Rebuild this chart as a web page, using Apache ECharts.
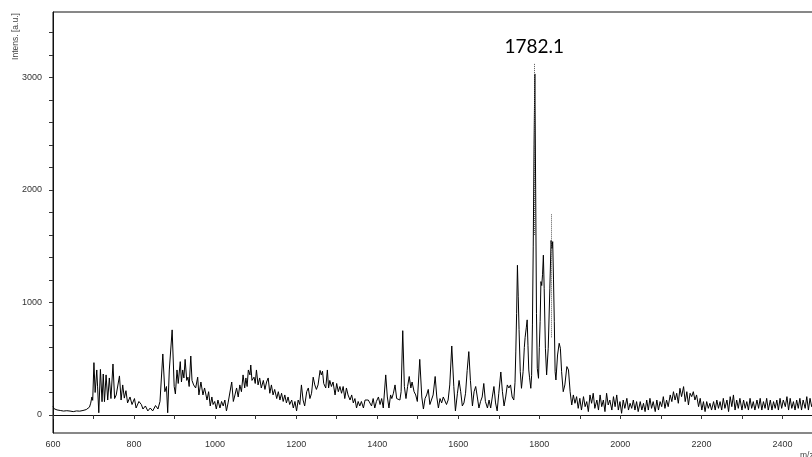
<!DOCTYPE html>
<html>
<head>
<meta charset="utf-8">
<script src="https://cdn.jsdelivr.net/npm/echarts@6/dist/echarts.min.js"></script>
<style>
html,body{margin:0;padding:0;background:#fff;overflow:hidden;width:812px;height:457px;}
#chart{width:840px;height:457px;}
</style>
</head>
<body>
<div id="chart"></div>
<script>
// ---- data (m/z, intensity) ----
var lowMassTrace = [[600,75],[603,55],[606,62],[610,45],[614,52],[618,40],[622,48],[626,35],[630,45],[634,38],[638,50],[642,35],[646,42],[650,30],[654,44],[658,36],[662,48],[666,34],[670,46],[674,40],[678,55],[682,48],[686,62],[690,70],[693,105],[696,160],[698,130],[701,465],[704,200],[708,400],[710,250],[713,20],[717,405],[721,118],[724,364],[727,118],[731,356],[735,133],[739,329],[743,146],[748,453],[752,146],[756,178],[764,347],[768,133],[772,267],[776,150],[780,216],[784,107],[790,160],[795,93],[801,146],[805,62],[812,120],[818,93],[822,53],[828,80],[834,36],[840,62],[846,36],[853,84],[859,53],[864,120],[868,107],[871,542],[876,207],[880,253],[883,20],[887,400],[894,756],[899,253],[902,187],[906,400],[909,280],[914,474],[917,293],[920,400],[923,329],[926,494],[930,307],[933,336],[936,253],[940,524],[943,307],[947,267],[952,240],[957,336],[960,178],[965,293],[970,178],[974,240],[980,133],[984,207],[988,80],[992,160]];

var midMassTrace = [[995,93],[999,120],[1003,53],[1007,133],[1012,62],[1016,120],[1020,80],[1024,133],[1028,36],[1032,107],[1036,93],[1041,293],[1045,120],[1049,178],[1053,240],[1057,160],[1061,267],[1065,207],[1069,356],[1073,240],[1076,329],[1079,253],[1082,400],[1086,356],[1088,444],[1091,307],[1096,336],[1099,280],[1102,400],[1106,267],[1110,329],[1114,240],[1119,307],[1123,227],[1127,293],[1131,329],[1135,193],[1139,267],[1143,178],[1147,227],[1152,146],[1156,207],[1160,133],[1164,193],[1168,120],[1172,178],[1176,107],[1180,160],[1184,93],[1189,133],[1193,62],[1197,120],[1201,36],[1205,133],[1209,93],[1213,267],[1217,133],[1221,80],[1226,207],[1230,240],[1234,146],[1238,193],[1242,336],[1246,267],[1250,227],[1254,267],[1259,396],[1262,356],[1265,389],[1268,280],[1273,240],[1277,400],[1280,240],[1283,307],[1287,253],[1291,293],[1296,178],[1300,280],[1304,207],[1308,253],[1312,193],[1316,253],[1320,146],[1324,240],[1328,178],[1333,133],[1337,178],[1341,107],[1345,146],[1349,62],[1353,120],[1357,80],[1361,120],[1366,62],[1370,133],[1374,146],[1378,133]];

var preClusterTrace = [[1382,133],[1386,80],[1390,146],[1394,62],[1398,120],[1403,160],[1407,93],[1411,146],[1415,62],[1421,356],[1425,160],[1429,62],[1433,178],[1436,146],[1440,193],[1444,267],[1448,146],[1452,160],[1456,133],[1459,207],[1463,749],[1467,253],[1471,146],[1475,253],[1479,342],[1483,240],[1486,293],[1491,207],[1495,178],[1499,120],[1505,494],[1510,160],[1514,53],[1518,146],[1522,178],[1526,227],[1530,93],[1534,107],[1538,178],[1543,342],[1547,160],[1551,62],[1555,146],[1559,107],[1563,160],[1567,146],[1571,93],[1575,133],[1579,267],[1584,613],[1589,253],[1593,36],[1598,193],[1602,307],[1606,207],[1610,80],[1614,107],[1618,193],[1622,396],[1626,563],[1630,307],[1635,80],[1639,207],[1643,253],[1647,160],[1651,62],[1655,120],[1659,160],[1663,280],[1667,120],[1672,62],[1676,133],[1680,62],[1684,160],[1688,253],[1692,107],[1696,36],[1700,193],[1705,382],[1709,207],[1713,80],[1717,160],[1721,267],[1725,240],[1729,267],[1733,160],[1737,133]];

var peakClusterTrace = [[1740,290],[1742,560],[1744,900],[1746,1330],[1748,1050],[1750,760],[1753,385],[1756,237],[1760,385],[1763,600],[1765,690],[1768,780],[1770,845],[1772,620],[1774,400],[1776,330],[1779,237],[1781,350],[1783,800],[1785,1500],[1787,2400],[1789,3030],[1791,2000],[1793,900],[1795,415],[1798,326],[1800,600],[1802,830],[1804,1185],[1806,1150],[1808,1250],[1810,1420],[1812,1126],[1815,593],[1818,356],[1822,593],[1826,1126],[1829,1550],[1831,1480],[1833,1540],[1835,1200],[1837,829],[1839,385],[1841,311],[1845,533],[1849,637],[1852,593],[1855,385],[1859,207],[1863,267],[1868,430],[1872,400],[1876,207],[1880,89],[1884,178],[1888,104],[1892,163],[1896,59]];

var highMassTrace = [[1900,148],[1904,44],[1909,163],[1913,74],[1917,119],[1921,30],[1925,178],[1929,104],[1933,193],[1937,59],[1942,133],[1946,44],[1950,178],[1954,74],[1958,133],[1962,30],[1966,193],[1970,89],[1974,133],[1979,44],[1983,163],[1987,74],[1991,178],[1995,44],[1999,119],[2003,15],[2007,133],[2011,59],[2016,148],[2020,44],[2024,104],[2028,59],[2032,133],[2036,44],[2040,119],[2044,30],[2049,119],[2053,44],[2057,104],[2061,30],[2065,133],[2069,44],[2073,148],[2077,59],[2081,119],[2086,30],[2090,133],[2094,44],[2098,119],[2102,74],[2106,163],[2110,59],[2114,133],[2118,74],[2123,178],[2127,119],[2131,207],[2135,133],[2139,193],[2143,104],[2147,237],[2151,163],[2156,252],[2160,119],[2164,207],[2168,89],[2172,193],[2176,163],[2180,207],[2184,133],[2188,178],[2193,74],[2197,148],[2201,44],[2205,119],[2209,30],[2213,119],[2217,59],[2221,104],[2225,44],[2230,119],[2234,44],[2238,133],[2242,59],[2246,119],[2250,44],[2254,148],[2258,59],[2263,133],[2267,30],[2271,163],[2275,74],[2279,178],[2283,44],[2287,133],[2291,59],[2295,148],[2300,44],[2304,133],[2308,59],[2312,119],[2316,44],[2320,148],[2324,59],[2328,119],[2332,44],[2337,133],[2341,59],[2345,148],[2349,44],[2353,119],[2357,59],[2361,148],[2365,44],[2370,133],[2374,44],[2378,119],[2382,59],[2386,133],[2390,44],[2394,148],[2398,59],[2402,133],[2407,74],[2411,163],[2415,44],[2419,148],[2423,59],[2427,119],[2431,44],[2435,133],[2439,59],[2443,148],[2447,44],[2451,133],[2456,59],[2460,163],[2464,44],[2468,148],[2472,74],[2476,120],[2480,60],[2490,110],[2500,80]];

// peak annotation: [m/z, lower intensity, upper intensity]
var peakMarkers = [[1787.5,1600,3126],[1829.5,690,1790]];
var peakLabel = '1782.1';

var xTickValues = [600,700,800,900,1000,1100,1200,1300,1400,1500,1600,1700,1800,1900,2000,2100,2200,2300,2400];
var xLabelValues = [600,800,1000,1200,1400,1600,1800,2000,2200,2400];
var yTickValues = [0,200,400,600,800,1000,1200,1400,1600,1800,2000,2200,2400,2600,2800,3000,3200,3400];
var yLabelValues = [0,1000,2000,3000];
var yAxisName = 'Intens. [a.u.]';
var xAxisName = 'm/z';

var spectrum = [].concat(lowMassTrace, midMassTrace, preClusterTrace, peakClusterTrace, highMassTrace);

var chart = echarts.init(document.getElementById('chart'), null, {renderer:'canvas'});
var plainNumber = function(v){ return String(v); };
var axisFont = {fontFamily:'Liberation Sans', fontSize:9, color:'#333'};

var markData = peakMarkers.map(function(p, i){
  return [
    {coord:[p[0], p[1]]},
    {coord:[p[0], p[2]], label: i === 0 ? {show:true, position:'end', formatter: peakLabel, distance: 7,
       fontFamily:'Lato', fontSize:19, color:'#000'} : {show:false}}
  ];
});

chart.setOption({
  animation:false,
  backgroundColor:'#fff',
  grid:{left:53, top:12, width:770, height:421, show:true, borderColor:'#111', borderWidth:1, containLabel:false, outerBoundsMode:'none'},
  xAxis:{
    type:'value', min:600, max:2500,
    axisLine:{show:true, lineStyle:{color:'#111', width:1}},
    axisTick:{show:true, length:4, customValues:xTickValues, lineStyle:{color:'#333'}},
    axisLabel:Object.assign({show:true, margin:7, customValues:xLabelValues, formatter:plainNumber}, axisFont),
    splitLine:{show:false}
  },
  yAxis:{
    type:'value', min:-160, max:3580,
    axisLine:{show:true, lineStyle:{color:'#111', width:1}},
    axisTick:{show:true, length:4, customValues:yTickValues, lineStyle:{color:'#333'}},
    axisLabel:Object.assign({show:true, margin:11, customValues:yLabelValues, formatter:plainNumber}, axisFont),
    splitLine:{show:false}
  },
  series:[{
    type:'line',
    data:spectrum,
    showSymbol:false,
    symbol:'none',
    sampling:null,
    clip:true,
    lineStyle:{color:'#000', width:1},
    markLine:{
      silent:true,
      symbol:['none','none'],
      lineStyle:{type:'dotted', color:'#555', width:1},
      label:{show:false},
      data:markData
    }
  }],
  graphic:[
    {type:'text', x:15.5, y:36.5, rotation:Math.PI/2,
     style:{text:yAxisName, fontFamily:'Liberation Sans', fontSize:8.5, fill:'#444', textAlign:'center', textVerticalAlign:'middle'}},
    {type:'text', x:800, y:451.5,
     style:{text:xAxisName, fontFamily:'Liberation Sans', fontSize:8.5, fill:'#444', textAlign:'left', textVerticalAlign:'top'}}
  ]
});
</script>
</body>
</html>
